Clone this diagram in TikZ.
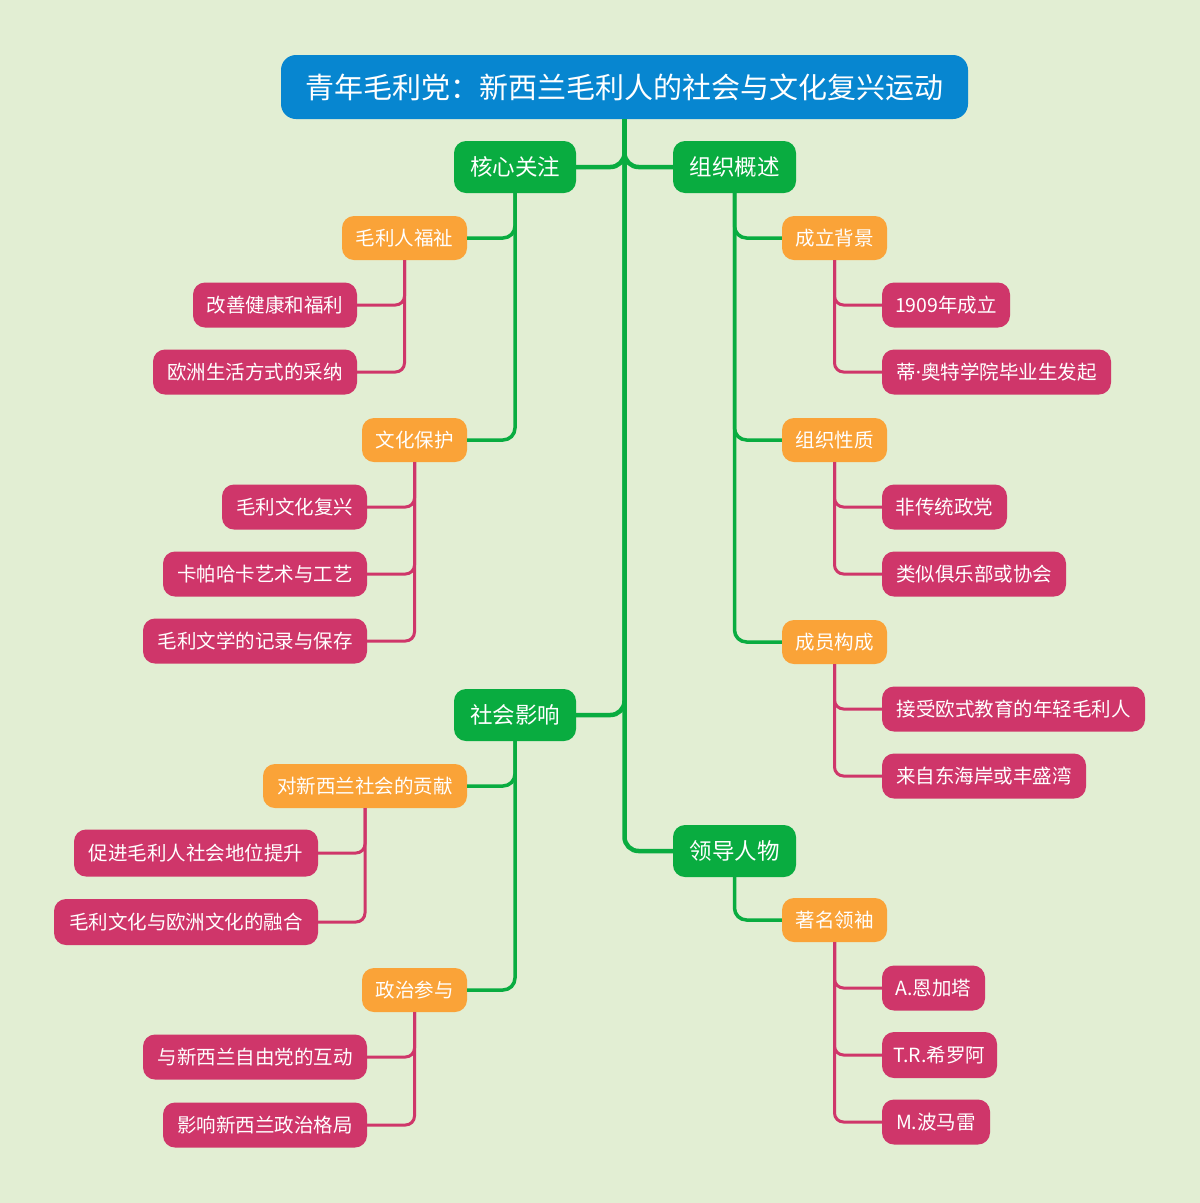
\documentclass[tikz,border=0pt]{standalone}
\usepackage{fontspec}
\setmainfont{Noto Sans CJK SC}
\newfontfamily\latinfont{Noto Sans}
\definecolor{bgc}{RGB}{226,238,211}
\definecolor{rootc}{RGB}{7,134,208}
\definecolor{greenc}{RGB}{9,172,64}
\definecolor{orangec}{RGB}{250,163,56}
\definecolor{redc}{RGB}{207,54,106}
\tikzset{
  base/.style={text=white, inner sep=0pt, align=center},
  rootbox/.style={base, fill=rootc, rounded corners=15pt, minimum height=64pt, font=\fontsize{29}{32}\selectfont},
  greenbox/.style={base, fill=greenc, rounded corners=12pt, minimum height=52pt, minimum width=122pt, font=\fontsize{22.5}{26}\selectfont},
  orangebox/.style={base, fill=orangec, rounded corners=12pt, minimum height=44pt, font=\fontsize{19.5}{22}\selectfont},
  redbox/.style={base, fill=redc, rounded corners=12pt, minimum height=45pt, font=\fontsize{19.5}{22}\selectfont},
  trunk/.style={draw=greenc, line width=4.5pt, rounded corners=14pt},
  gline/.style={draw=greenc, line width=3.5pt, rounded corners=12pt},
  rline/.style={draw=redc, line width=3pt, rounded corners=9pt},
}
\begin{document}
\begin{tikzpicture}[x=1pt,y=-1pt]
\fill[bgc] (0,0) rectangle (1200,1203);
\useasboundingbox (0,0) rectangle (1200,1203);

% nodes
\node[rootbox, minimum width=687pt] (root) at (624.5,87) {青年毛利党：新西兰毛利人的社会与文化复兴运动};

\node[greenbox] (g1) at (515,167) {核心关注};
\node[greenbox, minimum width=123pt] (g2) at (734.5,167) {组织概述};
\node[greenbox] (g3) at (515,715) {社会影响};
\node[greenbox, minimum width=123pt] (g4) at (734.5,851) {领导人物};

\node[orangebox, minimum width=125pt] (o1) at (404.5,238) {毛利人福祉};
\node[orangebox, minimum width=105pt] (o2) at (414.5,440) {文化保护};
\node[orangebox, minimum width=105pt] (o3) at (834.5,238) {成立背景};
\node[orangebox, minimum width=105pt] (o4) at (834.5,440) {组织性质};
\node[orangebox, minimum width=105pt] (o5) at (834.5,642) {成员构成};
\node[orangebox, minimum width=204pt] (o6) at (365,786) {对新西兰社会的贡献};
\node[orangebox, minimum width=105pt] (o7) at (414.5,990) {政治参与};
\node[orangebox, minimum width=105pt] (o8) at (834.5,920) {著名领袖};

\node[redbox, minimum width=164pt] (r1) at (275,305) {改善健康和福利};
\node[redbox, minimum width=204pt] (r2) at (255,372) {欧洲生活方式的采纳};
\node[redbox, minimum width=145pt] (r3) at (294.5,507) {毛利文化复兴};
\node[redbox, minimum width=204pt] (r4) at (265,574) {卡帕哈卡艺术与工艺};
\node[redbox, minimum width=224pt] (r5) at (255,641) {毛利文学的记录与保存};
\node[redbox, minimum width=128pt] (r6) at (946,305) {1909年成立};
\node[redbox, minimum width=229pt] (r7) at (996.5,372) {蒂{\latinfont ·}奥特学院毕业生发起};
\node[redbox, minimum width=125pt] (r8) at (944.5,507) {非传统政党};
\node[redbox, minimum width=184pt] (r9) at (974,574) {类似俱乐部或协会};
\node[redbox, minimum width=263pt] (r10) at (1013.5,709) {接受欧式教育的年轻毛利人};
\node[redbox, minimum width=204pt] (r11) at (984,776) {来自东海岸或丰盛湾};
\node[redbox, minimum width=244pt, minimum height=47pt] (r12) at (196,853) {促进毛利人社会地位提升};
\node[redbox, minimum width=264pt, minimum height=46pt] (r13) at (186,922) {毛利文化与欧洲文化的融合};
\node[redbox, minimum width=224pt] (r14) at (255,1057) {与新西兰自由党的互动};
\node[redbox, minimum width=204pt] (r15) at (265,1125) {影响新西兰政治格局};
\node[redbox, minimum width=103pt] (r16) at (933.5,988) {A.恩加塔};
\node[redbox, minimum width=115pt, minimum height=46pt] (r17) at (939.5,1055) {T.R.希罗阿};
\node[redbox, minimum width=108pt] (r18) at (936,1122) {M.波马雷};

% connectors
\draw[trunk] (root.south) |- (g1.east);
\draw[trunk] (root.south) |- (g2.west);
\draw[trunk] (root.south) |- (g3.east);
\draw[trunk] (root.south) |- (g4.west);

\draw[gline] (g1.south) |- (o1.east);
\draw[gline] (g1.south) |- (o2.east);
\draw[gline] (g2.south) |- (o3.west);
\draw[gline] (g2.south) |- (o4.west);
\draw[gline] (g2.south) |- (o5.west);
\draw[gline] (g3.south) |- (o6.east);
\draw[gline] (g3.south) |- (o7.east);
\draw[gline] (g4.south) |- (o8.west);

\draw[rline] (o1.south) |- (r1.east);
\draw[rline] (o1.south) |- (r2.east);
\draw[rline] (o2.south) |- (r3.east);
\draw[rline] (o2.south) |- (r4.east);
\draw[rline] (o2.south) |- (r5.east);
\draw[rline] (o3.south) |- (r6.west);
\draw[rline] (o3.south) |- (r7.west);
\draw[rline] (o4.south) |- (r8.west);
\draw[rline] (o4.south) |- (r9.west);
\draw[rline] (o5.south) |- (r10.west);
\draw[rline] (o5.south) |- (r11.west);
\draw[rline] (o6.south) |- (r12.east);
\draw[rline] (o6.south) |- (r13.east);
\draw[rline] (o7.south) |- (r14.east);
\draw[rline] (o7.south) |- (r15.east);
\draw[rline] (o8.south) |- (r16.west);
\draw[rline] (o8.south) |- (r17.west);
\draw[rline] (o8.south) |- (r18.west);
\end{tikzpicture}
\end{document}
